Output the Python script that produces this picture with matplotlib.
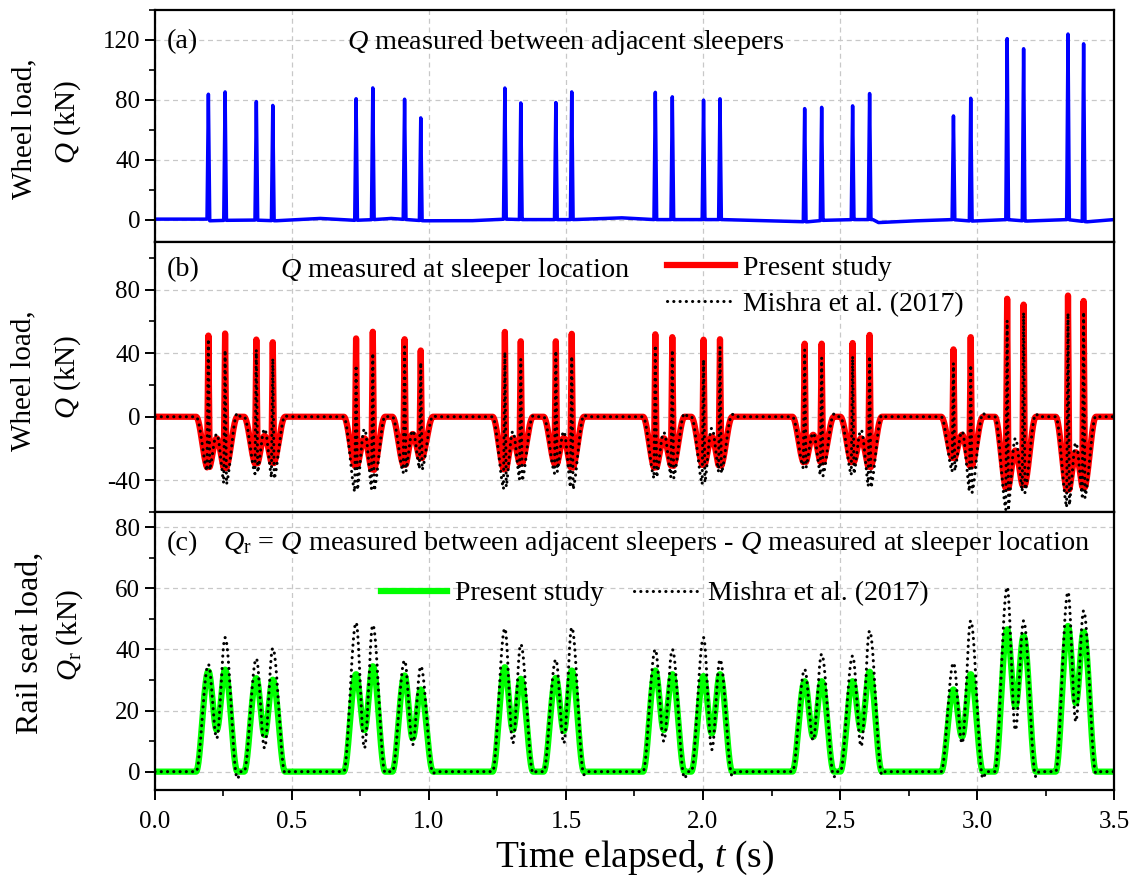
import numpy as np
import matplotlib
matplotlib.use('Agg')
import matplotlib.pyplot as plt
from matplotlib.ticker import MultipleLocator

plt.rcParams['font.family'] = 'Liberation Serif'
plt.rcParams['mathtext.fontset'] = 'custom'
plt.rcParams['mathtext.rm'] = 'Liberation Serif'
plt.rcParams['mathtext.it'] = 'Liberation Serif:italic'
plt.rcParams['axes.unicode_minus'] = False

# axle passage times (s), two axles per bogie
axle_t = [0.195, 0.256, 0.370, 0.430,
          0.734, 0.795, 0.911, 0.970,
          1.277, 1.335, 1.463, 1.521,
          1.826, 1.888, 2.002, 2.062,
          2.371, 2.433, 2.546, 2.608,
          2.914, 2.977, 3.110, 3.170, 3.332, 3.389]

# (a) peak wheel load measured between adjacent sleepers (kN)
q_between_peak = [84.0, 85.8, 79.2, 77.0,
                  81.2, 88.0, 80.3, 68.6,
                  87.6, 77.9, 78.2, 85.3,
                  85.0, 82.0, 79.8, 80.7,
                  75.6, 75.6, 76.0, 84.2,
                  69.3, 82.0, 120.9, 115.0, 124.0, 118.7]

# (a) slow baseline drift between the peaks (kN)
drift_t = [0.0, 0.19, 0.20, 0.26, 0.36, 0.44, 0.60, 0.73, 0.80, 0.86, 0.92,
           0.98, 1.15, 1.28, 1.34, 1.46, 1.53, 1.70, 1.82, 1.89, 2.07, 2.38,
           2.44, 2.55, 2.62, 2.64, 2.75, 2.91, 2.98, 3.11, 3.18, 3.33, 3.40, 3.5]
drift_q = [0.3, 0.3, -0.8, -0.5, -0.3, -0.8, 0.8, -0.5, 0.0, 0.8, 0.0,
           -0.8, -0.8, 0.3, 0.0, 0.0, 0.0, 1.2, 0.0, 0.0, 0.0, -1.5,
           -0.5, 0.0, 0.0, -2.0, -1.0, 0.0, -1.0, 0.0, -1.0, 0.0, -1.5, 0.0]

# (c) present study: rail seat load at each axle and dip between bogie axles (kN)
qr_peak = [32.9, 33.4, 30.6, 30.1,
           31.9, 34.5, 31.5, 26.9,
           34.2, 30.4, 30.7, 33.1,
           33.1, 31.9, 31.3, 31.9,
           29.6, 29.6, 29.6, 32.7,
           26.9, 31.9, 46.6, 44.4, 47.7, 45.8]
qr_mid = [13.6, 12.0, 13.6, 10.9, 13.6, 13.3, 13.6,
          12.5, 11.4, 13.6, 11.4, 21.3, 22.4]

# (c) Mishra et al. (2017): peaks, dips and undershoot after each bogie (kN)
qr_peak_m = [35.1, 43.9, 37.0, 40.4,
             48.8, 48.0, 36.4, 34.5,
             46.9, 41.7, 36.7, 47.2,
             40.0, 40.0, 43.9, 36.7,
             33.5, 38.5, 37.9, 46.1,
             35.6, 49.4, 60.4, 49.4, 58.8, 52.7]
qr_mid_m = [10.9, 7.7, 7.7, 8.8, 9.3, 9.3, 9.9,
            7.2, 10.3, 8.3, 9.3, 13.6, 16.4]
qr_under_m = [-2.3, -0.5, -0.3, -0.5, -0.5, -1.0, -2.2,
              -1.5, -1.7, -1.0, -2.2, -1.7, -0.5]

RAMP = 0.045      # rise/fall time of a bogie load bump (s)
HALF_W = 0.005    # half width of a wheel load peak (s)
T_END = 3.5


def eased(t, kt, kv):
    # cosine-eased curve through the keypoints
    kt = np.asarray(kt, float)
    kv = np.asarray(kv, float)
    i = np.clip(np.searchsorted(kt, t, side='right') - 1, 0, len(kt) - 2)
    s = np.clip((t - kt[i]) / (kt[i + 1] - kt[i]), 0, 1)
    return kv[i] + (kv[i + 1] - kv[i]) * (1 - np.cos(np.pi * s)) / 2


def bogie_keys(peaks, mids, under=None):
    kt, kv = [0.0], [0.0]
    for b in range(len(mids)):
        a1, a2 = axle_t[2 * b], axle_t[2 * b + 1]
        kt += [a1 - RAMP, a1, (a1 + a2) / 2, a2]
        kv += [0.0, peaks[2 * b], mids[b], peaks[2 * b + 1]]
        if under is None:
            kt.append(a2 + RAMP)
            kv.append(0.0)
        else:
            kt += [a2 + RAMP, a2 + RAMP + 0.012]
            kv += [under[b], 0.0]
    kt.append(T_END)
    kv.append(0.0)
    return kt, kv


spike_t = np.ravel([[a - HALF_W, a, a + HALF_W] for a in axle_t])
spike_q = np.ravel([[0.0, h, 0.0] for h in q_between_peak])

t = np.union1d(np.arange(0, T_END + 1e-9, 0.0005), spike_t)
spikes = np.interp(t, spike_t, spike_q, left=0, right=0)

q_between = spikes + np.interp(t, drift_t, drift_q)
qr = eased(t, *bogie_keys(qr_peak, qr_mid))
qr_m = eased(t, *bogie_keys(qr_peak_m, qr_mid_m, qr_under_m))
# Q at sleeper = Q between sleepers - Qr
q_sleeper = spikes - qr
q_sleeper_m = spikes - qr_m

FS = 20.3
LFS = 20
fig = plt.figure(figsize=(11.31, 8.81), dpi=100)
gs = fig.add_gridspec(3, 1, height_ratios=[232, 270, 278], hspace=0,
                      left=0.137, right=0.985, top=0.9886, bottom=0.1033)
axes = [fig.add_subplot(gs[i]) for i in range(3)]

grid_kw = dict(color='#c8c8c8', lw=0.9, ls=(0, (4, 3)))
dot_kw = dict(color='black', lw=2.2, ls=(0, (0.05, 2.0)),
              dash_capstyle='round')

ax = axes[0]
ax.plot(t, q_between, color='#0000ff', lw=2.5)
ax.set_ylim(-15, 140)
ax.yaxis.set_major_locator(MultipleLocator(40))
ax.yaxis.set_minor_locator(MultipleLocator(20))
ax.text(0.012, 0.862, '(a)', transform=ax.transAxes, fontsize=FS, va='center')
ax.text(0.2, 0.858, '$Q$ measured between adjacent sleepers',
        transform=ax.transAxes, fontsize=FS, va='center')

ax = axes[1]
ax.plot(t, q_sleeper, color='#ff0000', lw=4.5, label='Present study')
ax.plot(t, q_sleeper_m, label='Mishra et al. (2017)', **dot_kw)
ax.set_ylim(-60, 110)
ax.yaxis.set_major_locator(MultipleLocator(40))
ax.yaxis.set_minor_locator(MultipleLocator(20))
ax.text(0.012, 0.896, '(b)', transform=ax.transAxes, fontsize=FS, va='center')
ax.text(0.13, 0.896, '$Q$ measured at sleeper location',
        transform=ax.transAxes, fontsize=FS, va='center')
ax.legend(loc='upper left', bbox_to_anchor=(0.534, 0.95), frameon=False,
          fontsize=LFS, handlelength=2.45, handletextpad=0.3,
          labelspacing=0.38, borderpad=0, borderaxespad=0)

ax = axes[2]
ax.plot(t, qr, color='#00ff00', lw=4.5, label='Present study')
ax.plot(t, qr_m, label='Mishra et al. (2017)', **dot_kw)
ax.set_ylim(-6, 85)
ax.yaxis.set_major_locator(MultipleLocator(20))
ax.yaxis.set_minor_locator(MultipleLocator(10))
ax.text(0.012, 0.888, '(c)', transform=ax.transAxes, fontsize=FS, va='center')
ax.text(0.071, 0.888,
        '$Q_{\\mathrm{r}}$ = $Q$ measured between adjacent sleepers - '
        '$Q$ measured at sleeper location',
        transform=ax.transAxes, fontsize=FS, va='center')
ax.legend(loc='upper left', bbox_to_anchor=(0.236, 0.752), frameon=False,
          fontsize=LFS, ncol=2, handlelength=2.35, handletextpad=0.3,
          columnspacing=1.1, borderpad=0, borderaxespad=0)
ax.set_xlabel('Time elapsed, $t$ (s)', fontsize=27, labelpad=4)

# two-line y labels, placed in figure pixels
W, H = 1131, 881
ylabels = [('Wheel load,', 21, 24, 129), ('$Q$ (kN)', 21, 68, 122),
           ('Wheel load,', 21, 23, 381), ('$Q$ (kN)', 21, 68, 377),
           ('Rail seat load,', 23, 30, 643), ('$Q_{\\mathrm{r}}$ (kN)', 21, 70, 635)]
for txt, size, x, y in ylabels:
    fig.text(x / W, 1 - y / H, txt, fontsize=size, rotation=90,
             ha='center', va='center')

for i, ax in enumerate(axes):
    ax.set_xlim(0, T_END)
    ax.xaxis.set_major_locator(MultipleLocator(0.5))
    ax.xaxis.set_minor_locator(MultipleLocator(0.25))
    ax.grid(True, which='major', **grid_kw)
    ax.set_axisbelow(True)
    for sp in ax.spines.values():
        sp.set_linewidth(1.6)
    ax.tick_params(axis='y', which='major', direction='out', length=7,
                   width=1.4, labelsize=18)
    ax.tick_params(axis='y', which='minor', direction='out', length=4,
                   width=1.2)
    ax.tick_params(axis='x', which='major', direction='out', length=7,
                   width=1.4, labelsize=18, pad=8)
    ax.tick_params(axis='x', which='minor', direction='out', length=4,
                   width=1.2)
    if i < 2:
        ax.tick_params(axis='x', which='both', bottom=False, labelbottom=False)

axes[2].xaxis.set_major_formatter(plt.FuncFormatter(lambda v, p: f'{v:.1f}'))

fig.savefig('out.png', dpi=100)
